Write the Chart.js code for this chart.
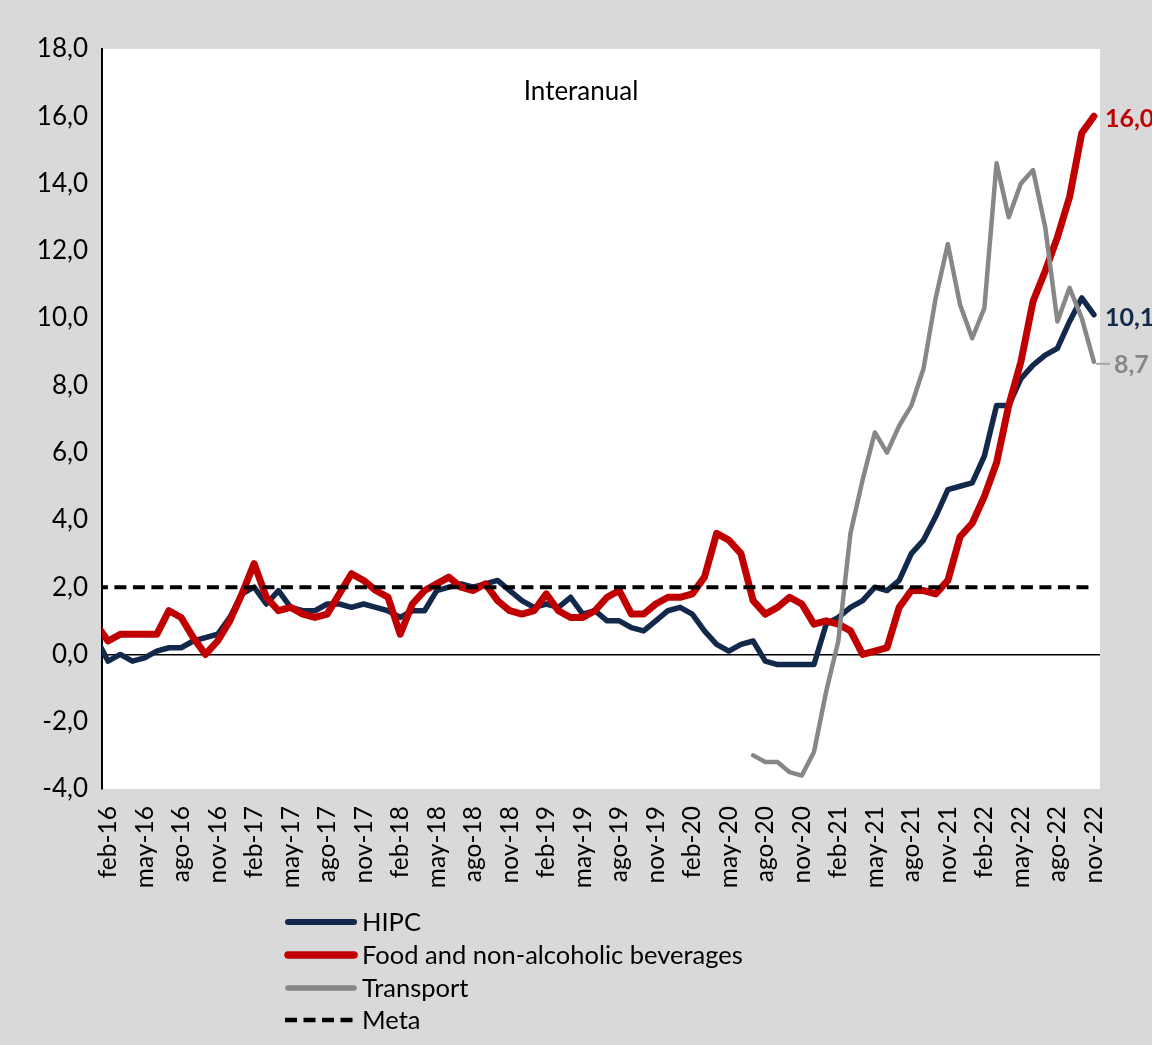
<!DOCTYPE html>
<html>
<head>
    <meta charset="utf-8">
    <title>Interanual</title>
    <style>
        html, body { margin: 0; padding: 0; background: #d9d9d9; }
        #wrap { width: 1152px; height: 1045px; }
    </style>
</head>
<body>
<div id="wrap"><canvas id="chart" width="1152" height="1045"></canvas></div>

<script src="https://cdn.jsdelivr.net/npm/chart.js"></script>
<script>
    // months jan-16 .. nov-22 (jan-16 only shows as a clipped stub at the axis)
    const meses = ['ene', 'feb', 'mar', 'abr', 'may', 'jun', 'jul', 'ago', 'sep', 'oct', 'nov', 'dic'];
    const anios = ['16', '17', '18', '19', '20', '21', '22'];
    const etiquetas = anios.flatMap(a => meses.map(m => m + '-' + a)).slice(0, 83);

    const primerMes = 'feb-16';
    const ultimoMes = 'nov-22';

    const hipc = [
        0.5,
        -0.2, 0.0, -0.2, -0.1, 0.1, 0.2, 0.2, 0.4, 0.5, 0.6, 1.1,
        1.8, 2.0, 1.5, 1.9, 1.4, 1.3, 1.3, 1.5, 1.5, 1.4, 1.5, 1.4,
        1.3, 1.1, 1.3, 1.3, 1.9, 2.0, 2.1, 2.0, 2.1, 2.2, 1.9, 1.6,
        1.4, 1.5, 1.4, 1.7, 1.2, 1.3, 1.0, 1.0, 0.8, 0.7, 1.0, 1.3,
        1.4, 1.2, 0.7, 0.3, 0.1, 0.3, 0.4, -0.2, -0.3, -0.3, -0.3, -0.3,
        0.9, 1.1, 1.4, 1.6, 2.0, 1.9, 2.2, 3.0, 3.4, 4.1, 4.9, 5.0,
        5.1, 5.9, 7.4, 7.4, 8.2, 8.6, 8.9, 9.1, 9.9, 10.6, 10.1
    ];

    const alimentos = [
        0.9,
        0.4, 0.6, 0.6, 0.6, 0.6, 1.3, 1.1, 0.5, 0.0, 0.4, 1.0,
        1.8, 2.7, 1.7, 1.3, 1.4, 1.2, 1.1, 1.2, 1.8, 2.4, 2.2, 1.9,
        1.7, 0.6, 1.5, 1.9, 2.1, 2.3, 2.0, 1.9, 2.1, 1.6, 1.3, 1.2,
        1.3, 1.8, 1.3, 1.1, 1.1, 1.3, 1.7, 1.9, 1.2, 1.2, 1.5, 1.7,
        1.7, 1.8, 2.3, 3.6, 3.4, 3.0, 1.6, 1.2, 1.4, 1.7, 1.5, 0.9,
        1.0, 0.9, 0.7, 0.0, 0.1, 0.2, 1.4, 1.9, 1.9, 1.8, 2.2, 3.5,
        3.9, 4.7, 5.7, 7.4, 8.7, 10.5, 11.4, 12.4, 13.6, 15.5, 16.0
    ];

    const transporteInicio = 'jul-20';
    const transporte = [
        -3.0, -3.2, -3.2, -3.5, -3.6, -2.9,
        -1.1, 0.4, 3.6, 5.2, 6.6, 6.0, 6.8, 7.4, 8.5, 10.6, 12.2, 10.4,
        9.4, 10.3, 14.6, 13.0, 14.0, 14.4, 12.7, 9.9, 10.9, 10.0, 8.7
    ];

    const meta = 2.0;

    const yTicks = { min: -4, max: 18, step: 2 };

    const coma = v => v.toFixed(1).replace('.', ',');
    const FONT = 'Lato, "Open Sans", sans-serif';

    const t0 = etiquetas.indexOf(transporteInicio);
    const transporteData = transporte.map((v, i) => ({ x: etiquetas[t0 + i], y: v }));

    // white plot area, title, end labels and the legend below the axis
    const decor = {
        id: 'decor',
        beforeDraw(chart) {
            const { ctx, chartArea: a } = chart;
            ctx.save();
            ctx.fillStyle = '#ffffff';
            ctx.fillRect(a.left, a.top, a.right - a.left, a.bottom - a.top);
            ctx.restore();
        },
        afterDraw(chart) {
            const { ctx, chartArea: a } = chart;
            ctx.save();

            ctx.fillStyle = '#000';
            ctx.font = '26px ' + FONT;
            ctx.textAlign = 'center';
            ctx.textBaseline = 'middle';
            ctx.fillText('Interanual', a.left + (a.right - a.left) * 0.48, 92);

            // last value of each series
            ctx.font = 'bold 25px ' + FONT;
            ctx.textAlign = 'left';
            [0, 1, 2].forEach(di => {
                const ds = chart.data.datasets[di];
                const pts = chart.getDatasetMeta(di).data;
                const p = pts[pts.length - 1];
                const raw = ds.data[ds.data.length - 1];
                const v = typeof raw === 'object' ? raw.y : raw;
                let x = p.x + 11;
                if (ds.leader) {
                    ctx.strokeStyle = '#a6a6a6';
                    ctx.lineWidth = 2;
                    ctx.beginPath();
                    ctx.moveTo(p.x + 2, p.y + 2);
                    ctx.lineTo(p.x + 16, p.y + 2);
                    ctx.stroke();
                    x = p.x + 20;
                }
                ctx.fillStyle = ds.borderColor;
                ctx.fillText(coma(v), x, p.y + 3);
            });

            // legend
            const x0 = 285, x1 = 357, rows = [922, 955, 988, 1020];
            const orden = [0, 1, 2, 3];
            ctx.font = '25.5px ' + FONT;
            orden.forEach((di, r) => {
                const ds = chart.data.datasets[di];
                const y = rows[r];
                ctx.strokeStyle = ds.borderColor;
                ctx.lineWidth = ds.legendWidth;
                ctx.setLineDash(ds.borderDash || []);
                ctx.lineCap = ds.borderDash ? 'butt' : 'round';
                ctx.beginPath();
                ctx.moveTo(x0 + (ds.borderDash ? 0 : 3), y);
                ctx.lineTo(x1 - (ds.borderDash ? 0 : 3), y);
                ctx.stroke();
                ctx.setLineDash([]);
                ctx.fillStyle = '#000';
                ctx.fillText(ds.label, x1 + 5, y + 1);
            });

            ctx.restore();
        }
    };

    const lineBase = {
        pointRadius: 0,
        pointHoverRadius: 0,
        fill: false,
        tension: 0,
        borderJoinStyle: 'round',
        borderCapStyle: 'round'
    };

    new Chart(document.getElementById('chart'), {
        type: 'line',
        data: {
            labels: etiquetas,
            datasets: [
                { ...lineBase, label: 'HIPC', data: hipc, borderColor: '#13294b', borderWidth: 5.5, legendWidth: 6, order: 4 },
                { ...lineBase, label: 'Food and non-alcoholic beverages', data: alimentos, borderColor: '#c00000', borderWidth: 7, legendWidth: 7.5, order: 3 },
                { ...lineBase, label: 'Transport', data: transporteData, borderColor: '#878787', borderWidth: 4.5, legendWidth: 5.5, order: 2, leader: true },
                {
                    ...lineBase, label: 'Meta',
                    data: [{ x: etiquetas[0], y: meta }, { x: ultimoMes, y: meta }],
                    borderColor: '#000000', borderWidth: 4, legendWidth: 4.5,
                    borderDash: [12, 6.5], borderCapStyle: 'butt', order: 1
                }
            ]
        },
        options: {
            responsive: false,
            animation: false,
            events: [],
            layout: { padding: { top: 49, right: 52, bottom: 0, left: 0 } },
            plugins: {
                legend: { display: false },
                tooltip: { enabled: false },
                title: { display: false }
            },
            scales: {
                x: {
                    type: 'category',
                    min: primerMes,
                    max: ultimoMes,
                    offset: true,
                    grid: { display: false, drawTicks: false },
                    border: { display: false },
                    ticks: {
                        autoSkip: false,
                        maxRotation: 90,
                        minRotation: 90,
                        padding: 17,
                        color: '#000',
                        font: { family: FONT, size: 24.5 },
                        callback: function (val) {
                            const i = val - etiquetas.indexOf(primerMes);
                            return i % 3 === 0 ? this.getLabelForValue(val) : null;
                        }
                    },
                    afterFit: s => { s.height = 256; }
                },
                y: {
                    min: yTicks.min,
                    max: yTicks.max,
                    grid: {
                        drawTicks: false,
                        color: c => (c.tick && c.tick.value === 0) ? '#000' : 'rgba(0,0,0,0)',
                        lineWidth: 1.5
                    },
                    border: { display: true, color: '#000', width: 2 },
                    ticks: {
                        stepSize: yTicks.step,
                        padding: 14,
                        color: '#000',
                        font: { family: FONT, size: 26 },
                        callback: v => coma(v)
                    },
                    afterFit: s => { s.width = 102; }
                }
            }
        },
        plugins: [decor]
    });
</script>
</body>
</html>
